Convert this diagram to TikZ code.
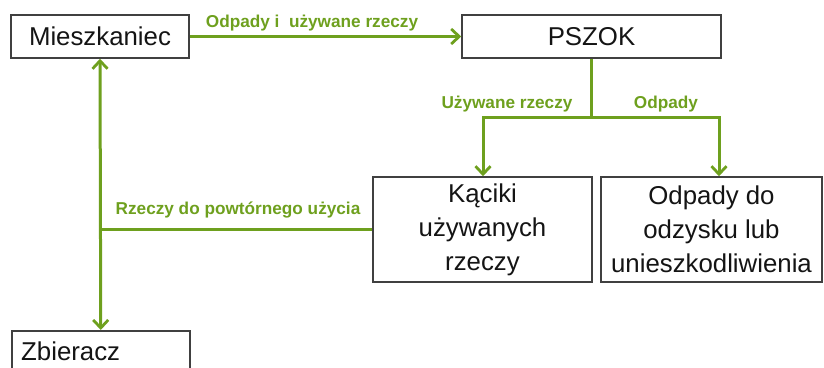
\documentclass[tikz,border=0pt]{standalone}
\usepackage{fontspec}
\setmainfont{Liberation Sans}
\usetikzlibrary{arrows.meta}
\definecolor{flowgreen}{RGB}{110,160,30}
\definecolor{boxline}{RGB}{64,64,64}
\definecolor{boxtext}{RGB}{20,20,20}
\begin{document}
\begin{tikzpicture}[x=1pt,y=-1pt,
  box/.style={draw=boxline, line width=1.5pt, rectangle, inner sep=0pt, text=boxtext,
    font=\fontsize{25.8}{34}\selectfont, align=center},
  flow/.style={draw=flowgreen, line width=3pt, line join=miter},
  arr/.style={flow, -{Straight Barb[length=8pt,width=15pt,line width=2.8pt]}},
  darr/.style={flow, {Straight Barb[length=8pt,width=15pt,line width=2.8pt]}-{Straight Barb[length=8pt,width=15pt,line width=2.8pt]}},
  lbl/.style={text=flowgreen, font=\fontsize{17.2}{20}\selectfont\bfseries, inner sep=0pt}]
\useasboundingbox (0,0) rectangle (824,367);
\clip (0,0) rectangle (824,367);
\node[box, minimum width=178pt, minimum height=43pt] (mie) at (100,36.5) {Mieszkaniec};
\node[box, minimum width=259pt, minimum height=43pt] (psz) at (591.5,36.5) {PSZOK};
\node[box, minimum width=219pt, minimum height=105pt] (kac) at (482.5,229.5) {Kąciki\\używanych\\rzeczy};
\node[box, minimum width=221pt, minimum height=105pt] (odp) at (711.5,229.5) {Odpady do\\odzysku lub\\unieszkodliwienia};
\node[box, anchor=north west, minimum width=178pt, minimum height=60pt] (zb) at (11,330) {};
\node[text=boxtext, font=\fontsize{25.8}{34}\selectfont, anchor=base west, inner sep=0pt] (zbt) at (21,360) {Zbieracz};

\coordinate (sl) at (483,117);
\coordinate (sr) at (719,117);
\coordinate (sm) at (591.5,117);

\draw[arr] (mie.east) -- (psz.west);
\draw[flow] (psz.south) -- (sm);
\draw[arr] (sm) -- (sl) -- (sl |- kac.north);
\draw[arr] (sm) -- (sr) -- (sr |- odp.north);
\draw[darr] (mie.south) -- (zb.north);
\draw[flow] (kac.west) -- (kac.west -| mie.south);

\node[lbl] (l1) at (312,23) {Odpady i\ \ używane rzeczy};
\node[lbl] (l2) at (507,104) {Używane rzeczy};
\node[lbl] (l3) at (666,104) {Odpady};
\node[lbl] (l4) at (238,210) {Rzeczy do powtórnego użycia};
\end{tikzpicture}
\end{document}
